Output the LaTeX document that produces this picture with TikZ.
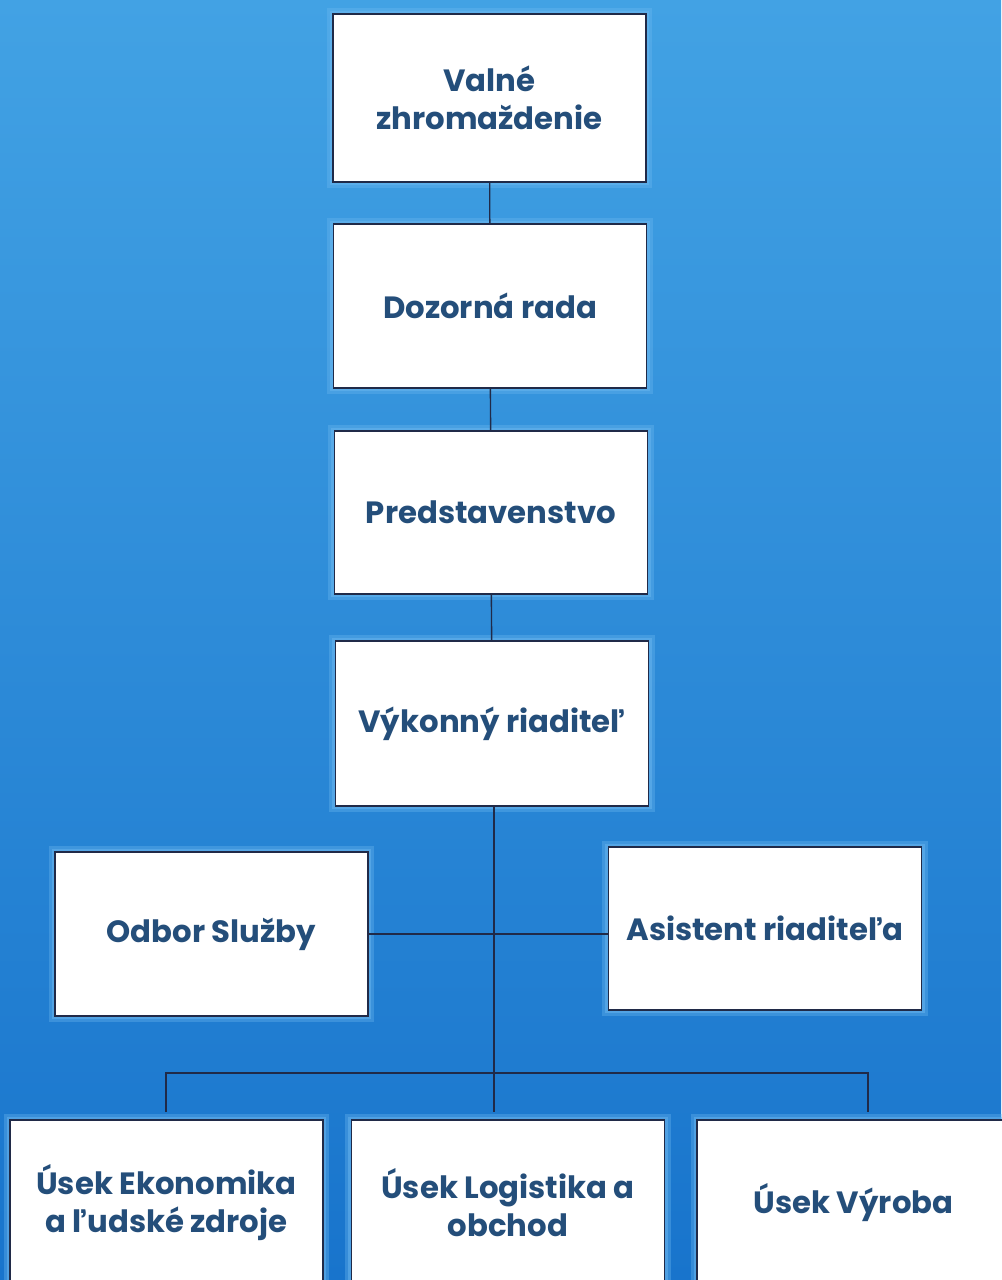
\documentclass[tikz,border=0pt]{standalone}
\usepackage{fontspec}
\setmainfont{Poppins}
\usetikzlibrary{calc}
\definecolor{bgtop}{RGB}{66,162,228}
\definecolor{bgmid}{RGB}{32,132,212}
\definecolor{bgbot}{RGB}{24,116,204}
\definecolor{halo}{RGB}{110,185,240}
\definecolor{rim}{RGB}{32,42,72}
\definecolor{txt}{RGB}{36,78,122}

\begin{document}
\begin{tikzpicture}[
        box/.style={draw=rim, line width=1.1pt, fill=white, minimum width=6.26cm, minimum height=3.28cm,
            align=center, text=txt, font=\bfseries\fontsize{17.5}{21.5}\selectfont,
            preaction={draw=halo, line width=7pt, opacity=0.35},
            preaction={draw=halo, line width=3.5pt, opacity=0.45}},
        link/.style={draw=rim, line width=0.8pt}
    ]
            \useasboundingbox (0,0) rectangle (20.02,-25.6);
            \shade[top color=bgtop, middle color=bgmid, bottom color=bgbot] (0,0) rectangle (20.02,-25.6);

            \node[box, minimum height=3.36cm] (valne) at (9.79,-1.96) {Valné\\zhromaždenie};
            \node[box] (dozor) at (9.8,-6.12) {Dozorná rada};
            \node[box, minimum height=3.26cm] (pred) at (9.82,-10.25) {Predstavenstvo};
            \node[box, minimum height=3.3cm] (vykon) at (9.84,-14.47) {Výkonný riaditeľ};

            \node[box] (odbor) at (4.23,-18.68) {Odbor Služby};
            \node[box, minimum height=3.26cm] (asist) at (15.3,-18.57) {Asistent riaditeľa};

            \node[box, minimum height=3.3cm] (ekon) at (3.33,-24.05) {Úsek Ekonomika\\a ľudské zdroje};
            \node[box, minimum height=3.3cm] (logist) at (10.16,-24.05) {Úsek Logistika a\\obchod};
            \node[box, minimum height=3.3cm] (vyroba) at (17.07,-24.05) {Úsek Výroba};

            \coordinate (busL) at (3.32,-21.46);
            \coordinate (busM) at (9.88,-21.46);
            \coordinate (busR) at (17.36,-21.46);
            \coordinate (dropL) at (3.32,-22.24);
            \coordinate (dropM) at (9.88,-22.24);
            \coordinate (dropR) at (17.36,-22.24);

            \draw[link] (valne) -- (dozor);
            \draw[link] (dozor) -- (pred);
            \draw[link] (pred) -- (vykon);
            \draw[link] (vykon.south -| busM) -- (dropM);
            \draw[link] (odbor.east) -- (odbor.east -| asist.west);
            \draw[link] (dropL) -- (busL) -- (busR) -- (dropR);

        \end{tikzpicture}
\end{document}
